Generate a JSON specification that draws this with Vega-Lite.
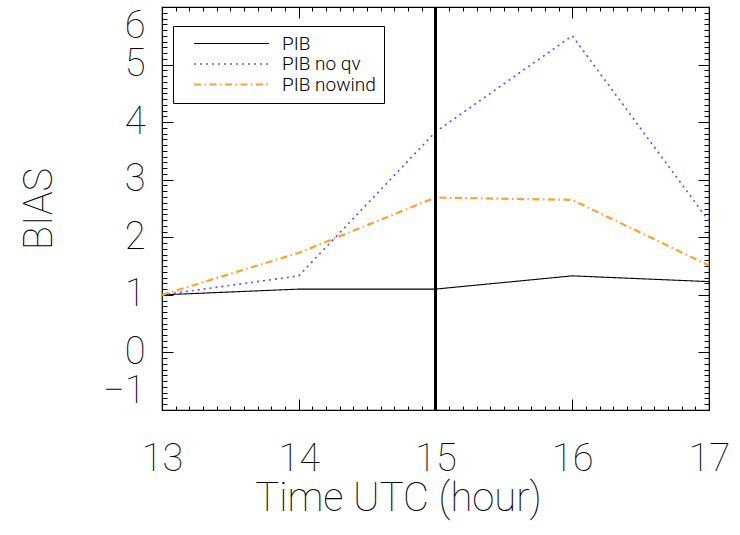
{
  "$schema": "https://vega.github.io/schema/vega-lite/v6.json",
  "width": 547,
  "height": 403,
  "autosize": {"type": "none"},
  "padding": {"left": 162, "top": 7, "right": 31, "bottom": 125},
  "background": "white",
  "config": {
    "view": {"stroke": "black", "strokeWidth": 1.2},
    "font": "Roboto",
    "axis": {"grid": false, "domain": false, "tickColor": "black", "labelColor": "black", "titleColor": "black"},
    "legend": {
      "orient": "none", "legendX": 11, "legendY": 19,
      "strokeColor": "black", "fillColor": "white", "padding": 8,
      "symbolType": "M-1,0H9", "symbolSize": 225, "symbolStrokeWidth": 1.5, "symbolOffset": 11,
      "labelFont": "Roboto", "labelFontSize": 19, "labelFontWeight": 300, "labelColor": "black",
      "labelOffset": 71, "rowPadding": 0.5
    }
  },
  "data": {
    "values": [
      {"hour": 13, "bias": 1.0, "series": "PIB"},
      {"hour": 14, "bias": 1.1, "series": "PIB"},
      {"hour": 15, "bias": 1.1, "series": "PIB"},
      {"hour": 16, "bias": 1.33, "series": "PIB"},
      {"hour": 17, "bias": 1.23, "series": "PIB"},
      {"hour": 13, "bias": 1.0, "series": "PIB no qv"},
      {"hour": 14, "bias": 1.33, "series": "PIB no qv"},
      {"hour": 15, "bias": 3.83, "series": "PIB no qv"},
      {"hour": 16, "bias": 5.5, "series": "PIB no qv"},
      {"hour": 17, "bias": 2.28, "series": "PIB no qv"},
      {"hour": 13, "bias": 1.0, "series": "PIB nowind"},
      {"hour": 14, "bias": 1.73, "series": "PIB nowind"},
      {"hour": 15, "bias": 2.69, "series": "PIB nowind"},
      {"hour": 16, "bias": 2.65, "series": "PIB nowind"},
      {"hour": 17, "bias": 1.51, "series": "PIB nowind"}
    ]
  },
  "resolve": {"axis": {"x": "independent", "y": "independent"}},
  "layer": [
    {
      "mark": {"type": "line", "clip": true},
      "encoding": {
        "x": {
          "field": "hour", "type": "quantitative",
          "scale": {"domain": [13, 17], "nice": false, "zero": false},
          "axis": {"orient": "bottom", "values": [13, 14, 15, 16, 17], "ticks": false, "labelFlush": false,
                   "labelFontSize": 38, "labelFontWeight": 100, "labelBaseline": "alphabetic", "labelPadding": 60,
                   "title": "Time UTC (hour)", "titleFontSize": 40, "titleFontWeight": 100,
                   "titleBaseline": "alphabetic", "titleX": 236, "titleY": 100, "titleAlign": "center"}
        },
        "y": {
          "field": "bias", "type": "quantitative",
          "scale": {"domain": [-1, 6], "nice": false, "zero": false},
          "axis": {"orient": "left", "values": [-1, 0, 1, 2, 3, 4, 5, 6], "ticks": false,
                   "labelFontSize": 38, "labelFontWeight": 100, "labelPadding": 17, "labelFlush": true,
                   "labelExpr": "datum.value < 0 ? '\u2212' + abs(datum.value) : datum.label",
                   "title": "BIAS", "titleFontSize": 40, "titleFontWeight": 100,
                   "titleBaseline": "alphabetic", "titleX": -111, "titleAngle": -90}
        },
        "color": {
          "field": "series", "type": "nominal",
          "scale": {"domain": ["PIB", "PIB no qv", "PIB nowind"], "range": ["#000000", "#7f3fff", "#ffa030"]},
          "legend": {"title": null}
        },
        "strokeDash": {
          "field": "series", "type": "nominal",
          "scale": {"domain": ["PIB", "PIB no qv", "PIB nowind"], "range": [[1, 0], [2, 4], [7, 3.5, 1.5, 3.5]]},
          "legend": {"title": null}
        },
        "strokeWidth": {
          "field": "series", "type": "nominal",
          "scale": {"domain": ["PIB", "PIB no qv", "PIB nowind"], "range": [1.1, 2.2, 2]},
          "legend": null
        }
      }
    },
    {
      "mark": {"type": "point", "opacity": 0},
      "encoding": {
        "x": {"field": "hour", "type": "quantitative",
              "axis": {"orient": "bottom", "values": [13, 14, 15, 16, 17], "labels": false, "title": null, "tickSize": -11}},
        "y": {"field": "bias", "type": "quantitative",
              "axis": {"orient": "left", "values": [-1, 0, 1, 2, 3, 4, 5, 6], "labels": false, "title": null, "tickSize": -11}}
      }
    },
    {
      "mark": {"type": "point", "opacity": 0},
      "encoding": {
        "x": {"field": "hour", "type": "quantitative",
              "axis": {"orient": "top", "values": [13, 14, 15, 16, 17], "labels": false, "title": null, "tickSize": -11}},
        "y": {"field": "bias", "type": "quantitative",
              "axis": {"orient": "right", "values": [-1, 0, 1, 2, 3, 4, 5, 6], "labels": false, "title": null, "tickSize": -11}}
      }
    },
    {
      "mark": {"type": "point", "opacity": 0},
      "encoding": {
        "x": {"field": "hour", "type": "quantitative",
              "axis": {"orient": "bottom", "tickCount": 40, "labels": false, "title": null, "tickSize": -4}},
        "y": {"field": "bias", "type": "quantitative",
              "axis": {"orient": "left", "tickCount": 70, "labels": false, "title": null, "tickSize": -5}}
      }
    },
    {
      "mark": {"type": "point", "opacity": 0},
      "encoding": {
        "x": {"field": "hour", "type": "quantitative",
              "axis": {"orient": "top", "tickCount": 40, "labels": false, "title": null, "tickSize": -4}},
        "y": {"field": "bias", "type": "quantitative",
              "axis": {"orient": "right", "tickCount": 70, "labels": false, "title": null, "tickSize": -5}}
      }
    },
    {
      "mark": {"type": "rule", "color": "black", "strokeWidth": 2},
      "encoding": {
        "x": {"datum": 15, "type": "quantitative", "axis": null}
      }
    }
  ]
}
